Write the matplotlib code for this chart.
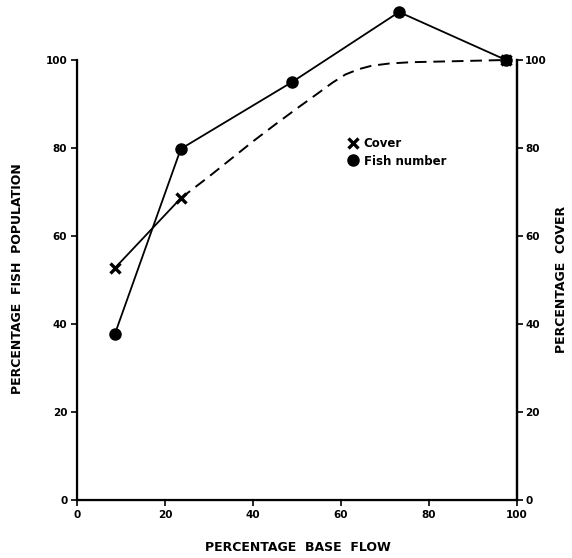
import matplotlib
matplotlib.use('Agg')
import matplotlib.pyplot as plt
from matplotlib.lines import Line2D

# Daten
fish_flow = [8.6, 23.6, 48.9, 73.2, 97.5]
fish_pct = [37.7, 79.8, 95.0, 110.9, 100.0]

cover_flow = [8.6, 23.6]
cover_pct = [52.7, 68.6]

# gestrichelter Verlauf der Deckung
cover_curve_flow = [23.6, 30, 35, 40, 45, 50, 55, 58, 61, 64, 67, 71, 76, 85, 97.5]
cover_curve_pct = [68.6, 73.5, 77.5, 81.5, 85.3, 89.0, 92.6, 94.8, 96.7, 97.9, 98.7, 99.2, 99.5, 99.7, 100.0]

ticks = [0, 20, 40, 60, 80, 100]

plt.rcParams['font.family'] = 'DejaVu Sans'
plt.rcParams['font.weight'] = 'bold'

fig = plt.figure(figsize=(5.72, 5.58), dpi=100)
ax = fig.add_axes([0.1346, 0.1039, 0.7692, 0.7886])

# Linien
ax.plot(fish_flow, fish_pct, color='black', lw=1.3, clip_on=False, zorder=3)
ax.plot(fish_flow, fish_pct, 'o', color='black', ms=8, clip_on=False, zorder=4)
ax.plot(cover_flow, cover_pct, color='black', lw=1.3, clip_on=False, zorder=3)
ax.plot(cover_curve_flow, cover_curve_pct, color='black', lw=1.4, ls=(0, (6, 3.5)),
        clip_on=False, zorder=3)
ax.plot(cover_flow + [cover_curve_flow[-1]], cover_pct + [cover_curve_pct[-1]], 'x',
        color='black', ms=7, mew=2.4, clip_on=False, zorder=5)

ax.set_xlim(0, 100)
ax.set_ylim(0, 100)
ax.spines['top'].set_visible(False)
for s in ['left', 'right', 'bottom']:
    ax.spines[s].set_linewidth(1.6)

ax.set_xticks(ticks)
ax.set_yticks(ticks)
ax.tick_params(axis='both', direction='out', length=4, width=1.2, labelsize=7.5, pad=3)

ax2 = ax.twinx()
ax2.set_ylim(0, 100)
ax2.set_yticks(ticks)
ax2.spines['top'].set_visible(False)
ax2.spines['right'].set_linewidth(1.6)
ax2.tick_params(axis='y', direction='out', length=4, width=1.2, labelsize=7.5, pad=2)

for lab in ax.get_xticklabels() + ax.get_yticklabels() + ax2.get_yticklabels():
    lab.set_fontweight('bold')

# Achsenbeschriftungen
fig.text(0.030, 0.5, 'PERCENTAGE  FISH  POPULATION', rotation=90, ha='center', va='center',
         fontsize=9, fontweight='bold')
fig.text(0.982, 0.5, 'PERCENTAGE  COVER', rotation=90, ha='center', va='center',
         fontsize=9, fontweight='bold')
fig.text(0.52, 0.018, 'PERCENTAGE  BASE  FLOW', ha='center', va='center',
         fontsize=9, fontweight='bold')

# Legende
handles = [Line2D([0], [0], marker='x', color='black', ls='none', ms=7, mew=2.4),
           Line2D([0], [0], marker='o', color='black', ls='none', ms=8)]
ax.legend(handles, ['Cover', 'Fish number'], loc='upper left', bbox_to_anchor=(0.59, 0.848),
          frameon=False, handletextpad=0.4, handlelength=1.0, labelspacing=0.35,
          prop={'size': 8.5, 'weight': 'bold'})

fig.savefig('out.png', dpi=100)
